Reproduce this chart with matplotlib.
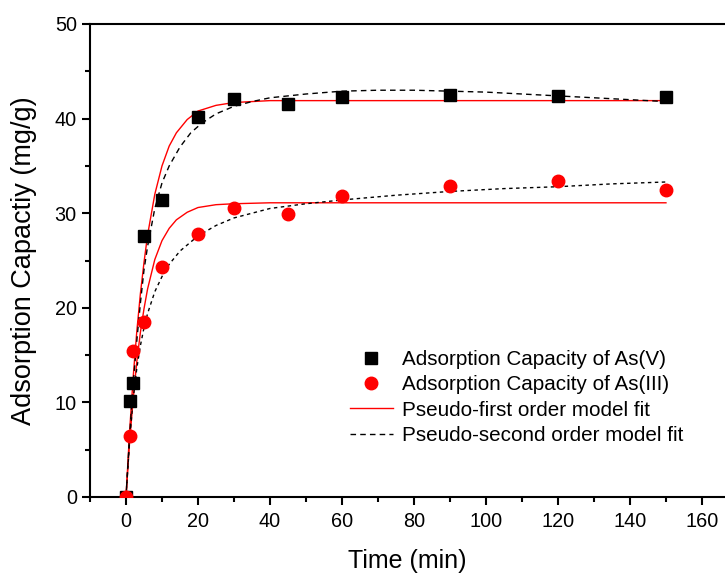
import numpy as np
import matplotlib.pyplot as plt
from matplotlib.ticker import MultipleLocator

plt.rcParams['font.family'] = ['Liberation Sans', 'DejaVu Sans']

# measured data
t = [0, 1, 2, 5, 10, 20, 30, 45, 60, 90, 120, 150]
q_as5 = [0, 10.2, 12.0, 27.6, 31.4, 40.2, 42.1, 41.5, 42.3, 42.5, 42.4, 42.3]
q_as3 = [0, 6.4, 15.4, 18.5, 24.3, 27.8, 30.5, 29.9, 31.8, 32.9, 33.4, 32.5]

# pseudo-first order curves
t_pfo = [0, 1, 2, 3, 4, 5, 6, 8, 10, 12, 14, 17, 20, 25, 30, 40, 60, 150]
pfo_as5 = [0, 6.9, 12.7, 17.5, 21.5, 24.8, 27.7, 32.0, 35.0, 37.1, 38.5, 39.9, 40.8, 41.4, 41.7, 41.9, 41.9, 41.9]
pfo_as3 = [0, 5.8, 10.4, 14.3, 17.4, 19.9, 22.0, 25.1, 27.1, 28.4, 29.3, 30.1, 30.6, 30.9, 31.0, 31.1, 31.1, 31.1]

# pseudo-second order curves
t_pso5 = [0, 1, 2, 3, 4, 5, 6, 8, 10, 12, 15, 18, 21, 25, 30, 35, 40, 50, 60, 70, 80, 90, 100, 110, 120, 130, 140, 150]
pso_as5 = [0, 6.5, 12.0, 16.5, 20.5, 24.0, 26.5, 30.5, 33.2, 35.0, 37.0, 38.5, 39.5, 40.5, 41.3, 41.8, 42.2, 42.6,
           42.9, 43.0, 43.0, 42.9, 42.8, 42.6, 42.4, 42.2, 42.0, 41.8]
t_pso3 = [0, 1, 2, 3, 4, 5, 6, 8, 10, 12, 15, 20, 25, 30, 40, 50, 60, 75, 90, 105, 120, 135, 150]
pso_as3 = [0, 6.0, 10.4, 13.6, 16.0, 17.9, 19.4, 21.7, 23.3, 24.6, 26.0, 27.6, 28.7, 29.5, 30.5, 31.0, 31.4, 31.9,
           32.3, 32.6, 32.8, 33.1, 33.3]

fig = plt.figure(figsize=(7.25, 5.75), dpi=100)
ax = fig.add_axes([90 / 725, 1 - 497 / 575, 1 - 90 / 725, (497 - 24) / 575])

ax.plot(t, q_as5, 's', color='black', ms=8, label='Adsorption Capacity of As(V)', zorder=3)
ax.plot(t, q_as3, 'o', color='red', ms=9, label='Adsorption Capacity of As(III)', zorder=3)
ax.plot(t_pfo, pfo_as5, '-', color='red', lw=1, label='Pseudo-first order model fit')
ax.plot(t_pfo, pfo_as3, '-', color='red', lw=1)
ax.plot(t_pso5, pso_as5, '--', color='black', lw=1, dashes=(4, 3), label='Pseudo-second order model fit')
ax.plot(t_pso3, pso_as3, '--', color='black', lw=1, dashes=(2.5, 2.5))

ax.set_xlim(-10, 166.4)
ax.set_ylim(0, 50)
ax.xaxis.set_major_locator(MultipleLocator(20))
ax.xaxis.set_minor_locator(MultipleLocator(10))
ax.yaxis.set_major_locator(MultipleLocator(10))
ax.yaxis.set_minor_locator(MultipleLocator(5))
ax.tick_params(which='major', direction='out', length=6, width=1.5, labelsize=14.3)
ax.tick_params(which='minor', direction='out', length=3.5, width=1.5)
ax.tick_params(axis='x', which='major', pad=5)
ax.spines['right'].set_visible(False)
for s in ['left', 'bottom', 'top']:
    ax.spines[s].set_linewidth(1.5)

ax.set_xlabel('Time (min)', fontsize=18, labelpad=13)
ax.set_ylabel('Adsorption Capactiy (mg/g)', fontsize=19.5, labelpad=13)

ax.legend(loc='upper left', bbox_to_anchor=(0.409, 0.311), frameon=False, fontsize=14.9,
          handlelength=2.1, handletextpad=0.45, labelspacing=0.31, borderpad=0, borderaxespad=0)

fig.savefig('out.png', dpi=100)
